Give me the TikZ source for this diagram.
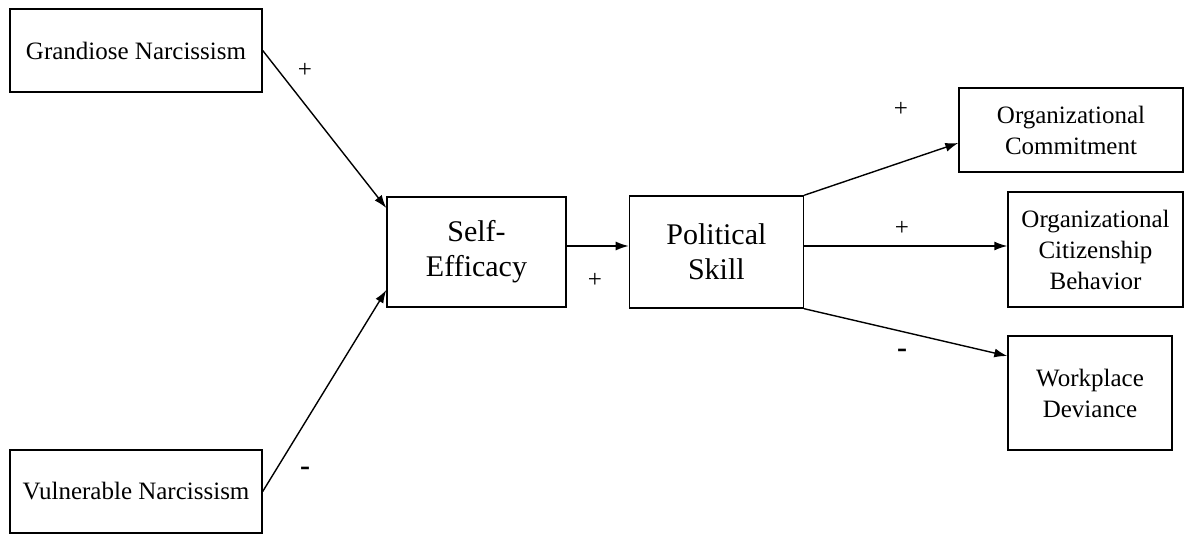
\documentclass[tikz,border=0pt]{standalone}
\usepackage{fontspec}
\setmainfont{Liberation Serif}
\usetikzlibrary{arrows.meta, positioning}

\begin{document}
\begin{tikzpicture}[
    x=1pt, y=-1pt,
    % estilos de nodos
    base/.style = {draw=black, line width=1.4pt, align=center, inner sep=0pt},
    rasgo/.style = {base, minimum width=252pt, minimum height=83pt, font=\fontsize{25}{29}\selectfont},
    mediador/.style = {base, font=\fontsize{30}{35}\selectfont},
    resultado/.style = {base, font=\fontsize{25}{31}\selectfont},
    signo/.style = {font=\fontsize{25}{29}\selectfont, inner sep=0pt},
    flecha/.style = {line width=1.4pt, -{Latex[length=13pt, width=9pt]}}
]
\useasboundingbox (0,0) rectangle (1184,534);

% ===============================
% 1. Rasgos (predictores)
% ===============================
\node (gn) [rasgo] at (136,50.5) {Grandiose Narcissism};
\node (vn) [rasgo] at (136,491.5) {Vulnerable Narcissism};

% ===============================
% 2. Mediadores
% ===============================
\node (se) [mediador, minimum width=179pt, minimum height=110pt] at (476.5,252) {Self-\\Efficacy};
\node (ps) [mediador, minimum width=174pt, minimum height=112pt, right=62pt of se] {Political\\Skill};

% ===============================
% 3. Resultados
% ===============================
\node (oc) [resultado, minimum width=224pt, minimum height=84pt] at (1071,130) {Organizational\\Commitment};
\node (ocb) [resultado, minimum width=175pt, minimum height=115pt] at (1095.5,249.5) {Organizational\\Citizenship\\Behavior};
\node (wd) [resultado, minimum width=164pt, minimum height=114pt] at (1090,393) {Workplace\\Deviance};

% ===============================
% 4. Flechas y signos
% ===============================
\draw [flecha] (gn.east) -- ([yshift=44pt]se.west);
\draw [flecha] (vn.east) -- ([yshift=-38pt]se.west);
\draw [flecha] ([yshift=6pt]se.east) -- ([yshift=6pt]ps.west);
\draw [flecha] (ps.north east) -- ([yshift=-13pt]oc.west);
\draw [flecha] ([yshift=6pt]ps.east) -- ([yshift=6pt]ps.east -| ocb.west);
\draw [flecha] (ps.south east) -- ([yshift=37pt]wd.west);

\node (sgn) [signo] at (305,70) {+};
\node (svn) [signo] at (305,471) {\fontsize{30}{30}\selectfont\bfseries -};
\node (sse) [signo] at (595,280) {+};
\node (soc) [signo] at (901,109) {+};
\node (socb) [signo] at (902,228) {+};
\node (swd) [signo] at (902,353) {\fontsize{30}{30}\selectfont\bfseries -};

\end{tikzpicture}
\end{document}
